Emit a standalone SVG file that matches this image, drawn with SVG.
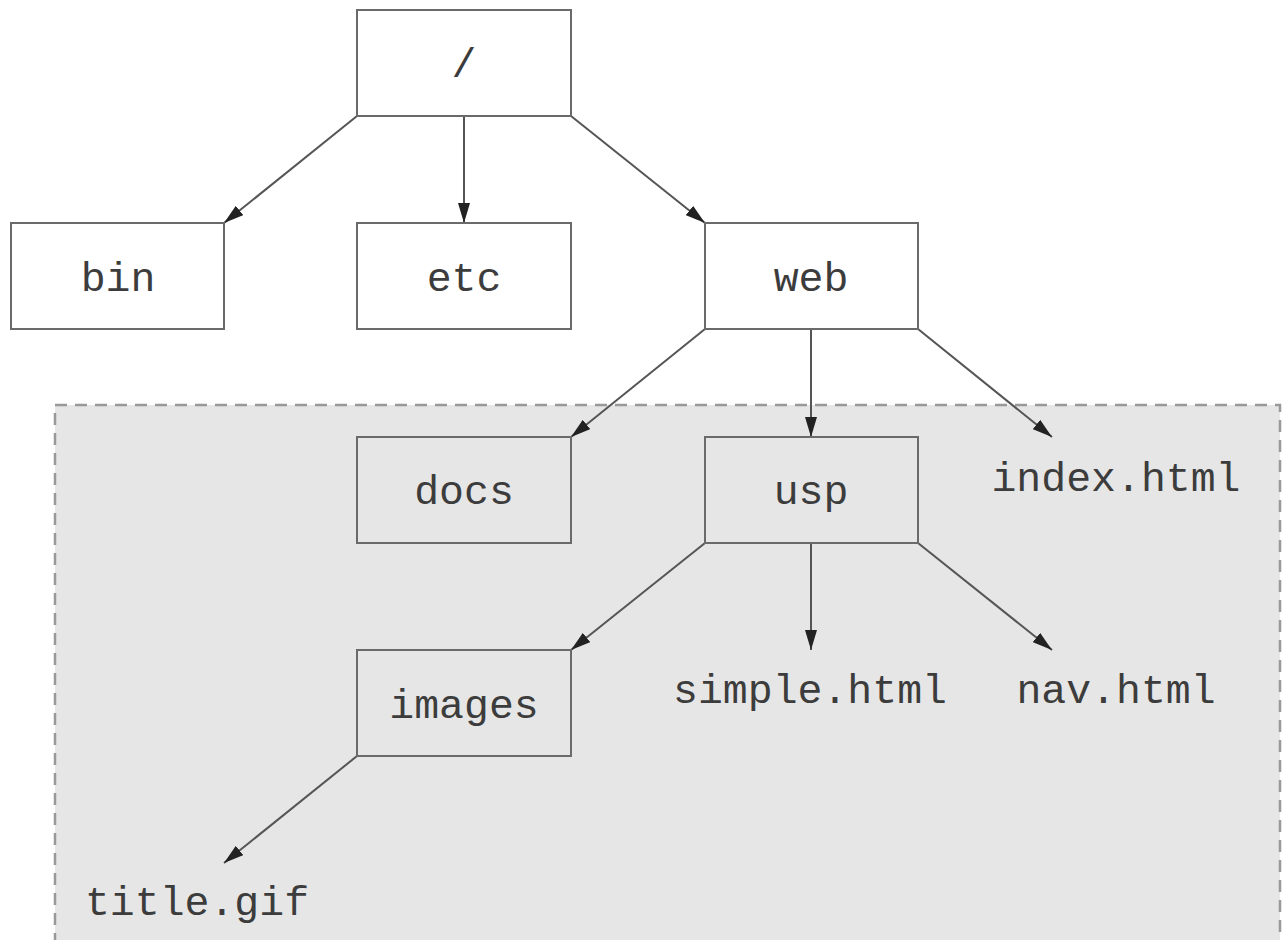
<svg xmlns="http://www.w3.org/2000/svg" width="1284" height="940" viewBox="0 0 1284 940">
<style>
.box{fill:#ffffff;stroke:#6a6a6a;stroke-width:2}
.gbox{fill:#e6e6e6;stroke:#6a6a6a;stroke-width:2}
.lbl{font-family:"Liberation Mono","Courier New",monospace;font-size:41.5px;fill:#3c3c3c;text-anchor:middle}
.edge{stroke:#555555;stroke-width:2;fill:none;marker-end:url(#ah)}
</style>
<defs>
<marker id="ah" viewBox="0 0 20 12" refX="20" refY="6" markerWidth="20" markerHeight="12" markerUnits="userSpaceOnUse" orient="auto">
<path d="M0,0 L20,6 L0,12 Z" fill="#222222"/>
</marker>
</defs>
<rect width="1284" height="940" fill="#ffffff"/>
<rect id="region" x="55" y="405" width="1225" height="545" fill="#e6e6e6" stroke="#999999" stroke-width="2.5" stroke-dasharray="12,8"/>
<g id="connectors">
<line class="edge" x1="357" y1="116" x2="224" y2="223"/>
<line class="edge" x1="464" y1="116" x2="464" y2="223"/>
<line class="edge" x1="571" y1="116" x2="705" y2="223"/>
<line class="edge" x1="705" y1="329" x2="571" y2="437"/>
<line class="edge" x1="811" y1="329" x2="811" y2="437"/>
<line class="edge" x1="918" y1="329" x2="1052" y2="437"/>
<line class="edge" x1="705" y1="543" x2="571" y2="650"/>
<line class="edge" x1="811" y1="543" x2="811" y2="650"/>
<line class="edge" x1="918" y1="543" x2="1052" y2="650"/>
<line class="edge" x1="357" y1="756" x2="224" y2="863"/>
</g>
<g id="root"><rect class="box" x="357" y="10" width="214" height="106"/><text class="lbl" x="464" y="77">/</text></g>
<g id="bin"><rect class="box" x="11" y="223" width="213" height="106"/><text class="lbl" x="118" y="291">bin</text></g>
<g id="etc"><rect class="box" x="357" y="223" width="214" height="106"/><text class="lbl" x="464" y="291">etc</text></g>
<g id="web"><rect class="box" x="705" y="223" width="213" height="106"/><text class="lbl" x="811" y="291">web</text></g>
<g id="docs"><rect class="gbox" x="357" y="437" width="214" height="106"/><text class="lbl" x="464" y="504">docs</text></g>
<g id="usp"><rect class="gbox" x="705" y="437" width="213" height="106"/><text class="lbl" x="811" y="504">usp</text></g>
<g id="index"><text class="lbl" x="1116" y="491">index.html</text></g>
<g id="images"><rect class="gbox" x="357" y="650" width="214" height="106"/><text class="lbl" x="464" y="718">images</text></g>
<g id="simple"><text class="lbl" x="810" y="703">simple.html</text></g>
<g id="nav"><text class="lbl" x="1116" y="703">nav.html</text></g>
<g id="title"><text class="lbl" x="197" y="915">title.gif</text></g>
</svg>
